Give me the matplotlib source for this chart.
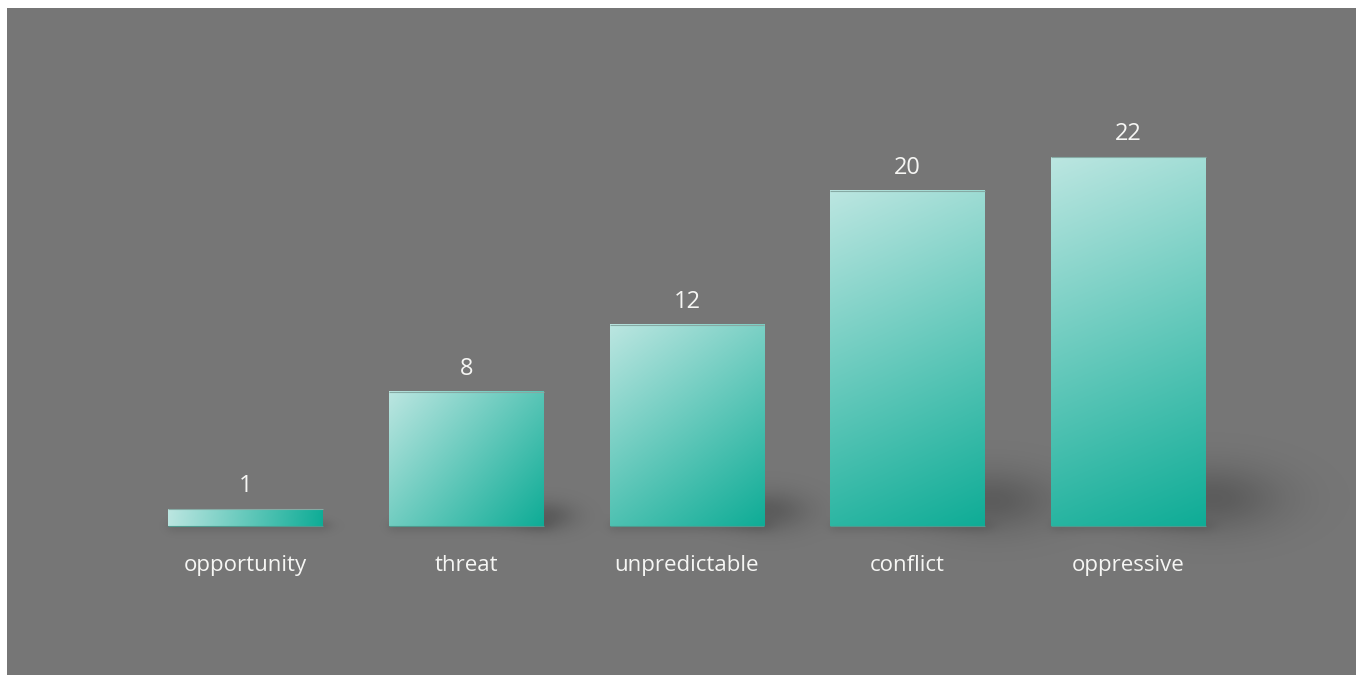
import numpy as np
import matplotlib
matplotlib.use("Agg")
import matplotlib.pyplot as plt

# Data
categories = ["opportunity", "threat", "unpredictable", "conflict", "oppressive"]
values = [1, 8, 12, 20, 22]

# Style
BG = "#767676"
TEXT = "#f6f6f4"
LIGHT = np.array([188, 230, 225]) / 255.0
DARK = np.array([14, 172, 150]) / 255.0
BAR_W = 0.70
FONT = "Open Sans"

DPI = 100
FW, FH = 1359, 675
fig = plt.figure(figsize=(FW / DPI, FH / DPI), dpi=DPI, facecolor="white")

# Grey panel = the axes area
px = lambda x, y: (x / FW, 1 - y / FH)
x0, y0 = px(7, 675)
x1, y1 = px(1356, 8)
ax = fig.add_axes([x0, y0, x1 - x0, y1 - y0])
ax.set_facecolor(BG)
for s in ax.spines.values():
    s.set_visible(False)
ax.set_xticks([])
ax.set_yticks([])
XLIM = (-1.0804, 5.0306)
YLIM = (-8.885, 30.89)
ax.set_xlim(*XLIM)
ax.set_ylim(*YLIM)

xs = np.arange(len(values))

# Soft shadows, computed in pixel space over the whole axes
fig.canvas.draw()
bbox = ax.get_window_extent()
aw, ah = int(round(bbox.width)), int(round(bbox.height))
gx = np.arange(aw) + bbox.x0 + 0.5
gy = np.arange(ah)[::-1] + bbox.y0 + 0.5  # row 0 = top
GX, GY = np.meshgrid(gx, gy)
alpha = np.zeros((ah, aw))
for x, v in zip(xs, values):
    (lx, by) = ax.transData.transform((x - BAR_W / 2, 0))
    (rx, ty) = ax.transData.transform((x + BAR_W / 2, v))
    H = ty - by
    # cast shadow to the lower right, fading out for short bars
    strength = 0.22 * min(1.0, H / 120)
    cx, cy = rx + 0.02 * H, by + 0.075 * H
    sx, sy = 0.12 * H + 4, 0.055 * H + 3
    alpha += strength * np.exp(-0.5 * ((GX - cx) / sx) ** 2 - 0.5 * ((GY - cy) / sy) ** 2)
    # contact shadow under the bar
    hx = 1 / (1 + np.exp(-(GX - lx) / 3)) * 1 / (1 + np.exp((GX - (rx + 6)) / 5))
    vy = np.exp(-0.5 * ((GY - by) / 5) ** 2)
    alpha += 0.10 * hx * vy
alpha = np.clip(alpha, 0, 0.5)
shadow = np.zeros((ah, aw, 4))
shadow[..., 3] = alpha
ax.imshow(shadow, extent=[*XLIM, *YLIM], aspect="auto",
          interpolation="bilinear", zorder=1)

# Gradient bars
for x, v in zip(xs, values):
    (lx, by) = ax.transData.transform((x - BAR_W / 2, 0))
    (rx, ty) = ax.transData.transform((x + BAR_W / 2, v))
    W, H = rx - lx, ty - by
    nx, ny = max(int(W), 2), max(int(H), 2)
    u = np.linspace(0, 1, nx)[None, :]
    d = np.linspace(0, 1, ny)[:, None]
    t = (u * W * W + d * H * H) / (W * W + H * H)
    img = LIGHT[None, None, :] * (1 - t[..., None]) + DARK[None, None, :] * t[..., None]
    ax.imshow(img, extent=[x - BAR_W / 2, x + BAR_W / 2, 0, v], aspect="auto",
              interpolation="bilinear", zorder=2)
    ax.plot([x - BAR_W / 2, x + BAR_W / 2], [v, v], color="#86aaa4", lw=0.8,
            solid_capstyle="butt", zorder=3)
    ax.plot([x - BAR_W / 2, x + BAR_W / 2], [0, 0], color="#4f9a8e", lw=0.8,
            solid_capstyle="butt", zorder=3)
    ax.annotate(str(v), (x, v), xytext=(0, 16.5), textcoords="offset points",
                ha="center", va="center", color=TEXT, fontsize=17, family=FONT, zorder=4)
ax.set_xlim(*XLIM)
ax.set_ylim(*YLIM)

for x, c in zip(xs, categories):
    ax.annotate(c, (x, 0), xytext=(0, -28.5), textcoords="offset points",
                ha="center", va="center", color=TEXT, fontsize=16, family=FONT, zorder=4)

fig.savefig("out.png", dpi=DPI, facecolor="white")
